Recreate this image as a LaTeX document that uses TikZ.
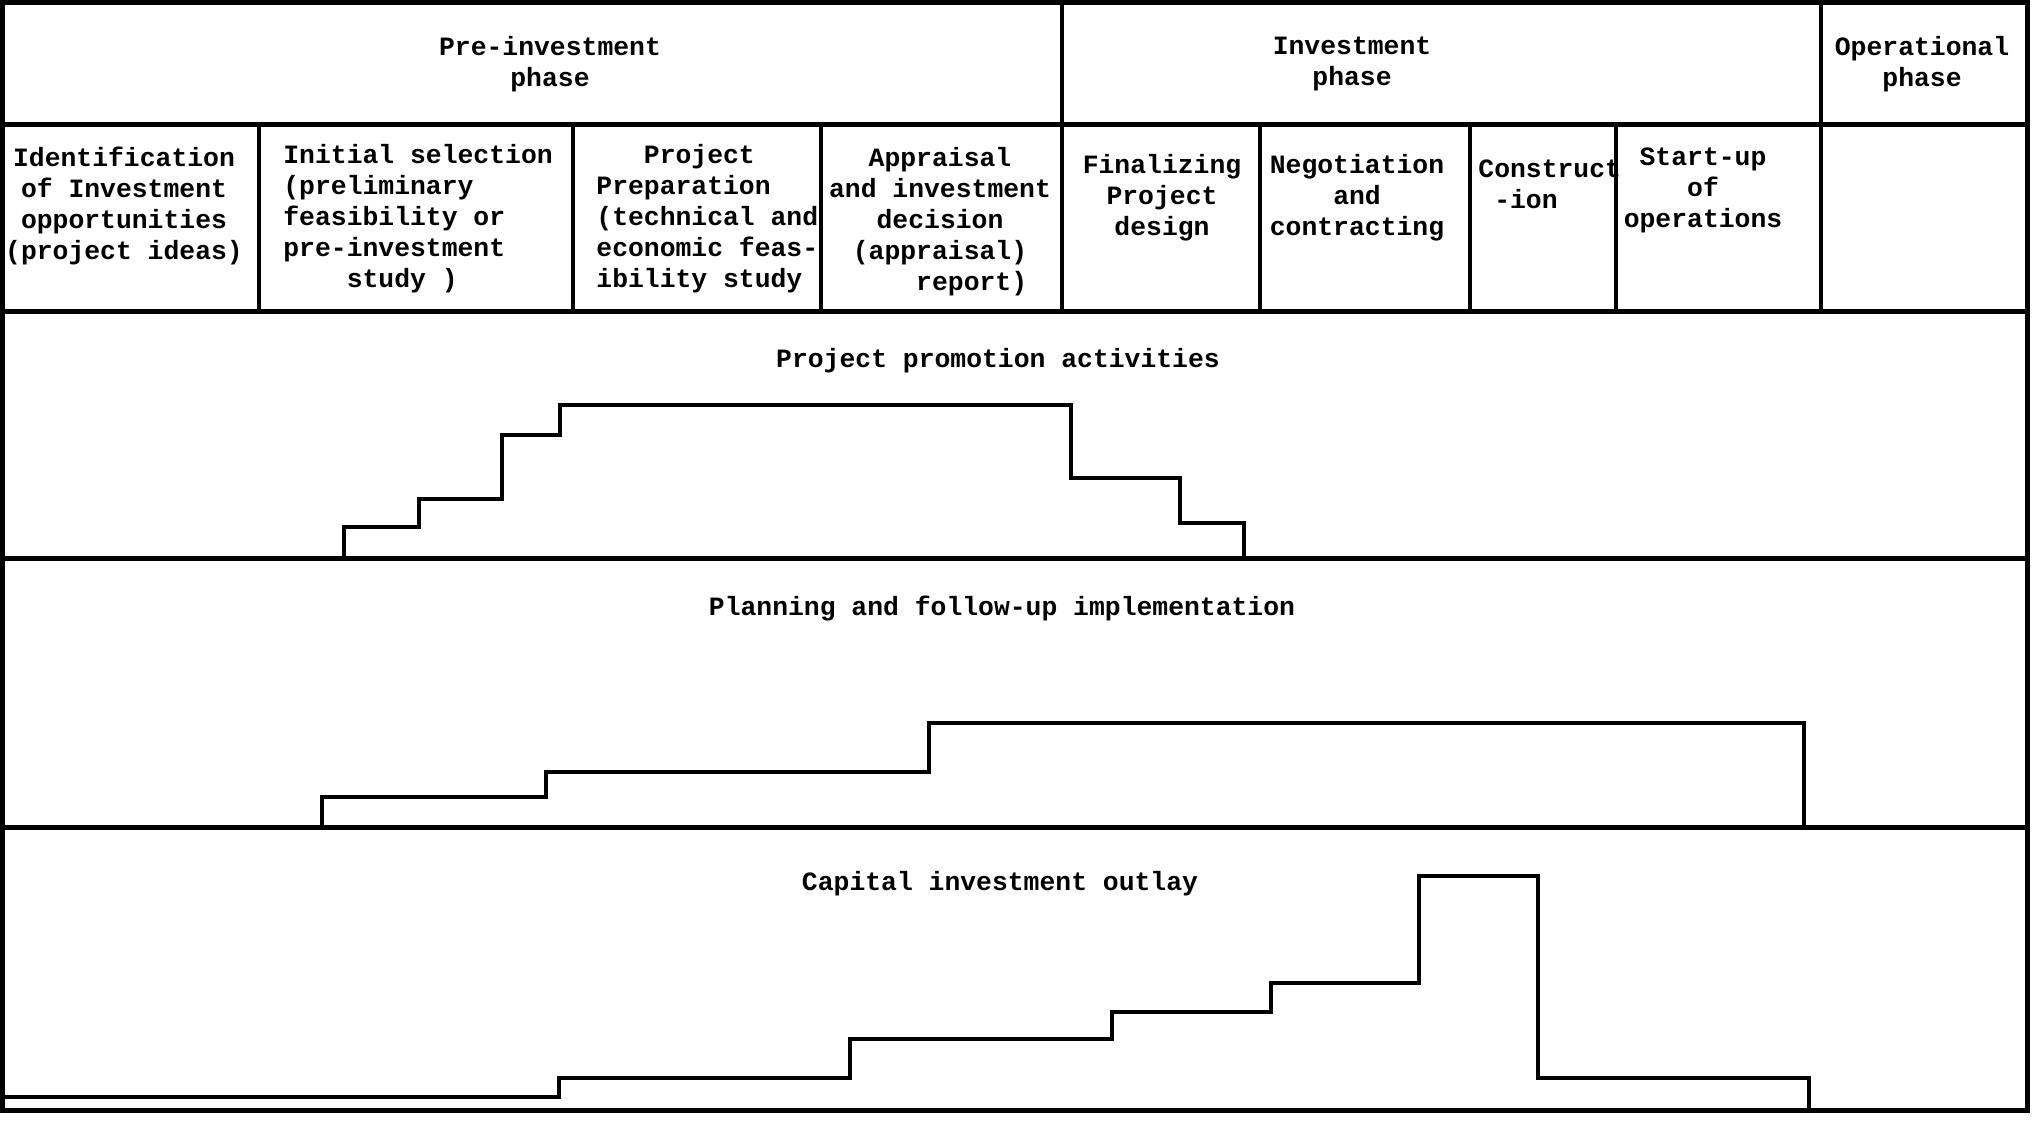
\documentclass[tikz,border=0pt]{standalone}
\usepackage{fontspec}
\setmonofont{Liberation Mono}
\begin{document}
\begin{tikzpicture}[x=0.5pt,y=-0.5pt,
  lbl/.style={font=\ttfamily\bfseries\fontsize{13.2}{15.5}\selectfont, inner sep=0pt},
  frame/.style={line width=2.5pt},
  divider/.style={line width=1.8pt},
  curve/.style={line width=2pt, line join=miter}]
\useasboundingbox (0,0) rectangle (2038,1122);
% outer frame and horizontal rules
\draw[frame] (2,3) rectangle (2027,1110);
\draw[frame] (2,125) -- (2027,125);
\draw[frame] (2,312) -- (2027,312);
\draw[frame] (2,558) -- (2027,558);
\draw[frame] (2,827) -- (2027,827);
% vertical dividers
\draw[divider] (1062,3) -- (1062,312);
\draw[divider] (1821,3) -- (1821,312);
\foreach \xx in {259,573,821,1260,1470,1616}
  \draw[divider] (\xx,125) -- (\xx,312);
% phase headers
\node[lbl, align=center] (hPre) at (550,64) {Pre-investment\\phase};
\node[lbl, align=center] (hInv) at (1352,64) {Investment\\phase};
\node[lbl, align=center] (hOp) at (1922,64) {Operational\\phase};
% stage cells
\node[lbl, align=center] (c1) at (124,206) {Identification\\of Investment\\opportunities\\(project ideas)};
\node[lbl, align=left, anchor=west] (c2) at (283,219) {Initial selection\\(preliminary\\feasibility or\\pre-investment\\\hspace*{2.4em}study )};
\node[lbl, align=left, anchor=west] (c3) at (596,219) {\hspace*{1.8em}Project\\Preparation\\(technical and\\economic feas-\\ibility study};
\node[lbl, align=center] (c4) at (940,222) {Appraisal\\and investment\\decision\\(appraisal)\\\hspace*{2.4em}report)};
\node[lbl, align=center] (c5) at (1162,198) {Finalizing\\Project\\design};
\node[lbl, align=center] (c6) at (1357,198) {Negotiation\\and\\contracting};
\node[lbl, align=left, anchor=west] (c7) at (1478,184) {Construct\\\hspace*{0.6em}-ion};
\node[lbl, align=center] (c8) at (1703,190) {Start-up\\of\\operations};
% band labels
\node[lbl] (b1) at (998,361) {Project promotion activities};
\node[lbl] (b2) at (1002,609) {Planning and follow-up implementation};
\node[lbl] (b3) at (1000,884) {Capital investment outlay};
% step curves
\draw[curve] (344,558) |- (419,527) |- (502,499) |- (560,435) |- (1071,405)
  |- (1180,478) |- (1244,523) -- (1244,558);
\draw[curve] (322,827) |- (546,797) |- (929,772) |- (1804,723) -- (1804,827);
\draw[curve] (2,1097) -- (559,1097) |- (850,1078) |- (1112,1039) |- (1271,1012)
  |- (1419,983) |- (1538,876) |- (1809,1078) -- (1809,1110);
\end{tikzpicture}
\end{document}
